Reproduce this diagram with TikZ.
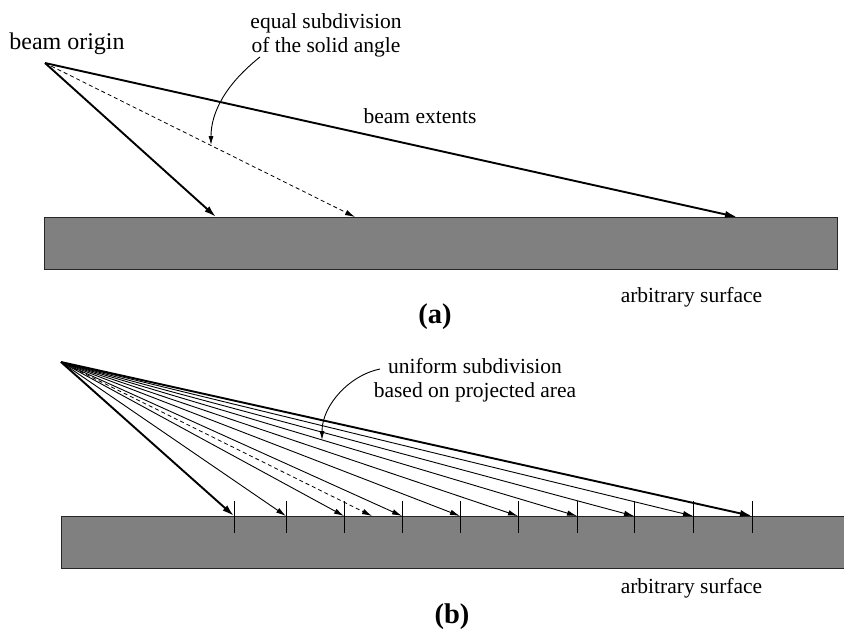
\documentclass[tikz,border=0pt]{standalone}
\usepackage{fontspec}
\setmainfont{Liberation Serif}
\usetikzlibrary{arrows.meta}
\begin{document}
\begin{tikzpicture}[x=1pt,y=-1pt,
  lbl/.style={font=\fontsize{21.5}{24}\selectfont, inner sep=0pt, anchor=base},
  biglbl/.style={font=\fontsize{24}{27}\selectfont, inner sep=0pt, anchor=base},
  captxt/.style={font=\bfseries\fontsize{28.5}{32}\selectfont, inner sep=0pt, anchor=base},
  surf/.style={fill=black!50, draw=black!85, line width=1pt, inner sep=0pt, anchor=north west},
  thickray/.style={line width=1.9pt, -{Latex[length=12pt,width=7pt]}},
  thinray/.style={line width=0.9pt, -{Latex[length=10pt,width=5.5pt]}},
  dashray/.style={line width=0.8pt, dash pattern=on 4pt off 3pt, -{Latex[length=10pt,width=5.5pt]}},
  pointer/.style={line width=0.9pt, -{Latex[length=9pt,width=5pt]}},
  tickmark/.style={line width=1pt}]
\useasboundingbox (0,0) rectangle (844,632);
\clip (0,0) rectangle (844,632);

% ---------- (a) ----------
\node[surf, minimum width=793, minimum height=52] (sa) at (44,217) {};
\coordinate (oa) at (45,63);
\coordinate (a1) at (216,217);
\coordinate (a2) at (355,217);
\coordinate (a3) at (737,217);
\draw[thickray] (oa) -- (a1);
\draw[dashray] (oa) -- (a2);
\draw[thickray] (oa) -- (a3);

\node[biglbl] (bo) at (67,49) {beam origin};
\node[lbl] (eq1) at (326,28.5) {equal subdivision};
\node[lbl] (eq2) at (326,52) {of the solid angle};
\node[lbl] (be) at (420,123) {beam extents};
\node[lbl] (asa) at (691.5,302) {arbitrary surface};
\node[captxt] (capa) at (435,323) {(a)};

\coordinate (pa0) at (260,57);
\coordinate (pa1) at (211,145);
\draw[pointer] (pa0) .. controls (226,84) and (211,112) .. (pa1);

% ---------- (b) ----------
\node[surf, minimum width=800, minimum height=52] (sb) at (61,516) {};
\coordinate (ob) at (61,362);
\foreach \x [count=\i] in {234,286,344,402,460,518,577,634,693,752}{
  \coordinate (b\i) at (\x,516);
  \draw[tickmark] (\x,501) -- (\x,533);
}
\coordinate (bd) at (372,516);
\draw[thickray] (ob) -- (b1);
\foreach \i in {2,...,9}{
  \draw[thinray] (ob) -- (b\i);
}
\draw[dashray] (ob) -- (bd);
\draw[thickray] (ob) -- (b10);

\node[lbl] (un1) at (475,373) {uniform subdivision};
\node[lbl] (un2) at (475,397) {based on projected area};
\node[lbl] (asb) at (691.5,593) {arbitrary surface};
\node[captxt] (capb) at (452,623) {(b)};

\coordinate (pb0) at (380,369);
\coordinate (pb1) at (322,440);
\draw[pointer] (pb0) .. controls (350,375) and (322,405) .. (pb1);
\end{tikzpicture}
\end{document}
